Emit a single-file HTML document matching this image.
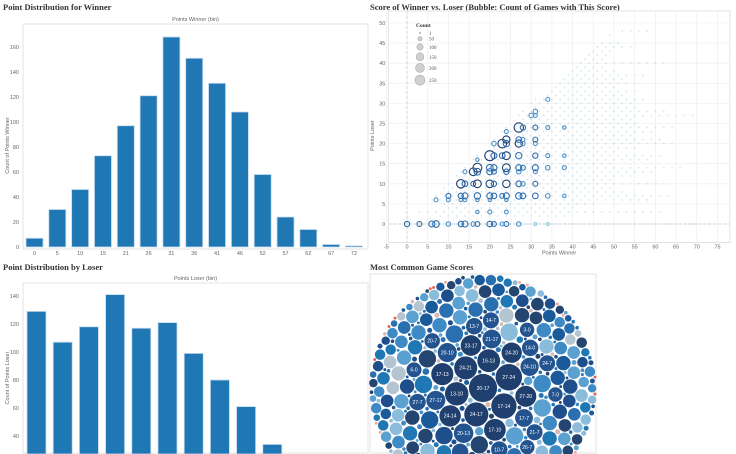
<!DOCTYPE html>
<html><head><meta charset="utf-8"><style>
html,body{margin:0;padding:0;background:#fff;width:736px;height:454px;overflow:hidden;}
svg{display:block;font-family:"Liberation Sans",sans-serif;overflow:hidden;}
.t{font-family:"Liberation Serif",serif;font-weight:bold;font-size:8.5px;fill:#333;}
.tk{font-size:5.5px;fill:#666;}
</style></head><body>
<svg id="s" width="736" height="454" viewBox="0 0 736 454" xmlns="http://www.w3.org/2000/svg">
<defs><clipPath id="cp"><rect x="0" y="0" width="736" height="454"/></clipPath></defs>
<g clip-path="url(#cp)">
<text class="t" x="3" y="10">Point Distribution for Winner</text>
<text class="t" x="370" y="10">Score of Winner vs. Loser (Bubble: Count of Games with This Score)</text>
<text class="t" x="3" y="270">Point Distribution by Loser</text>
<text class="t" x="370" y="270">Most Common Game Scores</text>
<g id="g1"></g>
<g id="g2"></g>
<g id="g3"></g>
<g id="g4"></g>
</g>
</svg>
<script>
const winBins=["0","5","10","15","21","26","31","36","41","46","52","57","62","67","72"];
const winCounts=[7,30,46,73,97,121,168,151,131,108,58,24,14,2,1];
const winTicks=[0,20,40,60,80,100,120,140,160];
const loseBins=["0","3","7","10","14","17","21","24","28","31","35","38"];
const loseCounts=[129,107,118,141,117,121,99,80,61,34,14,5];
const loseTicks=[40,60,80,100,120,140];
const scatterXTicks=[-5,0,5,10,15,20,25,30,35,40,45,50,55,60,65,70,75];
const scatterYTicks=[0,5,10,15,20,25,30,35,40,45,50];
// faint rows: [loser, min winner, max winner]
const faintRows=[[0,0,73],[2,8,38],[3,3,62],[4,10,40],[5,8,45],[6,6,58],[7,7,63],[8,9,52],[9,9,50],[10,10,62],[11,12,50],[12,12,55],[13,13,60],[14,14,66],[15,16,50],[16,16,58],[17,17,61],[18,19,50],[19,20,55],[20,20,65],[21,21,62],[22,23,55],[23,23,60],[24,24,65],[25,26,55],[26,27,55],[27,27,70],[28,28,62],[29,30,55],[30,30,55],[31,31,57],[32,33,52],[33,34,56],[34,35,50],[35,36,56],[36,37,52],[37,38,58],[38,39,50],[39,41,48],[40,42,63],[41,42,48],[42,44,48],[43,44,50],[44,45,54],[45,46,52],[47,48,50],[48,51,58],[49,52,52]];
// prominent bubbles: [winner, loser, count]
const bigBubbles=[[0,0,70],[3,0,60],[6,0,90],[7,0,110],[10,0,50],[13,0,70],[14,0,90],[16,0,50],[17,0,60],[20,0,80],[21,0,60],[23,0,40],[24,0,60],[27,0,50],[31,0,25],[34,0,25],
[17,3,30],[20,3,40],[24,3,35],[7,6,40],[10,6,40],[13,6,30],[14,6,35],[17,6,30],[20,6,30],[24,6,30],
[10,7,60],[13,7,70],[14,7,90],[17,7,100],[20,7,90],[21,7,80],[23,7,60],[24,7,90],[27,7,100],[28,7,80],[31,7,80],[34,7,50],[38,7,30],
[13,10,180],[14,10,80],[16,10,60],[17,10,150],[20,10,140],[21,10,70],[24,10,140],[27,10,80],[28,10,50],[31,10,60],
[14,13,40],[16,13,150],[17,13,110],[20,13,90],[21,13,60],[24,13,70],[27,13,50],[31,13,40],
[17,14,200],[20,14,110],[21,14,90],[24,14,150],[27,14,90],[28,14,60],[31,14,90],[34,14,50],[38,14,40],
[17,16,30],[20,17,250],[21,17,90],[23,17,80],[24,17,150],[27,17,100],[31,17,70],[34,17,40],[38,17,30],
[21,20,50],[23,20,190],[24,20,100],[27,20,130],[28,20,50],[31,20,40],[24,21,130],[27,21,80],[28,21,40],[31,21,60],[24,23,40],
[27,24,220],[28,24,70],[31,24,60],[34,24,40],[38,24,30],[30,27,50],[31,27,40],[31,28,50],[34,31,40]];
const legendCounts=[1,50,100,150,200,250];
// packed bubbles labeled scores: [label, count]
const scoreLabels=[["20-17",250],["27-24",220],["17-14",200],["24-17",180],["13-10",170],["24-21",165],["16-13",160],["17-13",150],["17-10",145],["24-14",140],["27-20",135],["23-17",130],["24-20",125],["20-13",115],["27-17",110],["20-10",110],["21-17",105],["24-10",100],["17-7",95],["13-7",80],["14-0",80],["10-7",80],["27-7",80],["31-7",80],["14-7",75],["21-7",75],["24-7",75],["20-7",70],["0-0",70],["6-0",65],["3-0",60],["7-0",60],["26-7",60]];
// filler buckets: [count, howMany]
const fillerBuckets=[[90,10],[60,30],[45,45],[30,70],[18,90],[10,110],[5,130],[2,160],[1,200]];

const NS="http://www.w3.org/2000/svg";
function mk(p,tag,at,txt){const e=document.createElementNS(NS,tag);for(const k in at)e.setAttribute(k,at[k]);if(txt!==undefined)e.textContent=txt;p.appendChild(e);return e;}

function hist(g,L,T,R,B,bins,counts,ticks,yZero,ppu,step,bw,first,xTitle,yTitle,nameP){
  const fr=mk(g,'rect',{x:L,y:T,width:R-L,height:B-T,fill:'none',stroke:'#e3e3e3','stroke-width':1});
  
  const y=v=>yZero-v*ppu;
  const tt=mk(g,'text',{x:(L+R)/2,y:T-3,'text-anchor':'middle',class:'tk'},xTitle);
  
  const yt=mk(g,'text',{x:0,y:0,'text-anchor':'middle',class:'tk',transform:`translate(9,${(T+Math.min(B,yZero))/2+10}) rotate(-90)`},yTitle);
  
  ticks.forEach(v=>{const e=mk(g,'text',{x:L-4,y:y(v)+2,'text-anchor':'end',class:'tk'},String(v));
    });
  counts.forEach((c,i)=>{const cx=first+i*step;
    const bottom=Math.min(yZero,454);
    const h=Math.max(0,bottom-y(c));
    const r=mk(g,'rect',{x:cx-bw/2,y:Math.min(y(c),bottom),width:bw,height:h,fill:'#1f77b4',stroke:'#c6dbef','stroke-width':0.8});
    
    if(B>=yZero){const lb=mk(g,'text',{x:cx,y:B+6,'text-anchor':'middle',class:'tk'},bins[i]);
      }
  });
}
hist(document.getElementById('g1'),23,24,368,249,winBins,winCounts,winTicks,247,1.25,22.82,17,34.5,"Points Winner (bin)","Count of Points Winner","winner");
hist(document.getElementById('g3'),23,283,368,453,loseBins,loseCounts,loseTicks,492,1.4,26.2,19,36.5,"Points Loser (bin)","Count of Points Loser","loser");

(function(){
  const g=document.getElementById('g2');
  const xs=w=>407+w*4.14, ys=l=>224-l*4.02;
  const L=xs(-4.5),R=xs(78),T=ys(53),B=ys(-4.6);
  const fr=mk(g,'rect',{x:L,y:T,width:R-L,height:B-T,fill:'none',stroke:'#e3e3e3'});
  
  scatterXTicks.forEach(v=>{const l=mk(g,'line',{x1:xs(v),x2:xs(v),y1:T,y2:B,stroke:'#f0f0f0','stroke-width':0.8});
    
    const e=mk(g,'text',{x:xs(v),y:B+6,'text-anchor':'middle',class:'tk'},String(v));
    });
  scatterYTicks.forEach(v=>{const l=mk(g,'line',{x1:L,x2:R,y1:ys(v),y2:ys(v),stroke:'#f0f0f0','stroke-width':0.8});
    
    const e=mk(g,'text',{x:L-3,y:ys(v)+2,'text-anchor':'end',class:'tk'},String(v));
    });
  const z1=mk(g,'line',{x1:xs(0),x2:xs(0),y1:T,y2:B,stroke:'#ccc','stroke-dasharray':'3,2','stroke-width':0.8});
  
  const z2=mk(g,'line',{x1:L,x2:R,y1:ys(0),y2:ys(0),stroke:'#ccc','stroke-dasharray':'3,2','stroke-width':0.8});
  
  const xt=mk(g,'text',{x:(L+R)/2,y:B+12,'text-anchor':'middle',class:'tk'},"Points Winner");
  
  const yt=mk(g,'text',{x:0,y:0,'text-anchor':'middle',class:'tk',transform:`translate(374,${ys(22)}) rotate(-90)`},"Points Loser");
  
  const rad=c=>Math.max(0.7,Math.sqrt(c/250)*5);
  const col=c=>c>=130?'#213f73':c>=60?'#2e6db0':c>=30?'#4a8fc8':'#9fcde0';
  faintRows.forEach(([l,a,b])=>{for(let w=a;w<=b;w++){
    if((w+l)%2 && l>0) continue;
    const d=mk(g,'circle',{cx:xs(w),cy:ys(l),r:0.6,fill:'none',stroke:'#b6dbe8','stroke-width':0.5});
    }});
  bigBubbles.forEach(([w,l,c])=>{
    const d=mk(g,'circle',{cx:xs(w),cy:ys(l),r:rad(c),fill:'none',stroke:col(c),'stroke-width':1.1});
    });
  const lt=mk(g,'text',{x:416,y:27,'font-family':'Liberation Serif,serif','font-weight':'bold','font-size':'5.5px',fill:'#333'},"Count");
  
  let yy=33;
  legendCounts.forEach((c,i)=>{const r=rad(c);yy+=i?r+1.8:0;
    const d=mk(g,'circle',{cx:420,cy:yy,r:r,fill:'#d0d0d0',stroke:'#aaa','stroke-width':0.6});
    
    const e=mk(g,'text',{x:429,y:yy+2,'font-family':'Liberation Serif,serif','font-size':'5px',fill:'#555'},String(c));
    
    yy+=r+1;});
})();

(function(){
  const g=document.getElementById('g4');
  const fr=mk(g,'rect',{x:370,y:274,width:226,height:179,fill:'none',stroke:'#e3e3e3'});
  
  const CX=483,CY=388,RR=114;
  const items=[];
  scoreLabels.forEach(([lab,c])=>items.push({lab,c}));
  fillerBuckets.forEach(([c,n])=>{for(let i=0;i<n;i++)items.push({lab:null,c});});
  const rOf=c=>Math.sqrt(c/250)*13.5+0.6;
  items.forEach(it=>it.r=rOf(it.c));
  items.sort((a,b)=>b.r-a.r);
  const cell=30,grid=new Map(),key=(i,j)=>i+','+j;
  function ok(x,y,r){const gi=Math.floor(x/cell),gj=Math.floor(y/cell);
    for(let i=gi-1;i<=gi+1;i++)for(let j=gj-1;j<=gj+1;j++){const a=grid.get(key(i,j));if(!a)continue;
      for(const p of a){const dx=p.x-x,dy=p.y-y,m=p.r+r+0.6;if(dx*dx+dy*dy<m*m)return false;}}
    return true;}
  const placed=[];
  items.forEach((it,idx)=>{
    const a0=idx*2.399;let a=a0,found=false;
    for(let rr=0;rr<RR-it.r+0.01;){
      const x=CX+rr*Math.cos(a),y=CY+rr*Math.sin(a);
      if(ok(x,y,it.r)){it.x=x;it.y=y;found=true;break;}
      const ds=Math.max(1,it.r*0.5);
      a+=ds/Math.max(rr,2);rr=Math.max(0,(a-a0)*1.8/(2*Math.PI));
    }
    if(!found)return;
    const k=key(Math.floor(it.x/cell),Math.floor(it.y/cell));
    if(!grid.has(k))grid.set(k,[]);grid.get(k).push(it);placed.push(it);
  });
  const pal=['#1f4e8c','#2a6fb0','#1f77b4','#3d8ac4','#23456f','#5aa0d0','#1b5a9a','#8bbcdc'];
  placed.forEach((it,i)=>{
    if(it.y-it.r>454) return;
    let f;
    if(it.lab)f=it.c>=120?'#1f3f6e':'#245490';
    else if(it.r<1.6){const dist=Math.hypot(it.x-CX,it.y-CY);f=dist>RR-8?(i%3?'#e8604c':'#f2a89a'):pal[i%pal.length];}
    else if(it.r<3&&i%11===0)f='#d9b8b3';
    else if(i%17===0)f='#b4c4d0';
    else f=pal[(i*7)%pal.length];
    const c=mk(g,'circle',{cx:it.x.toFixed(1),cy:it.y.toFixed(1),r:it.r.toFixed(2),fill:f});
    
    
    if(it.lab&&it.y<450){const t=mk(g,'text',{x:it.x.toFixed(1),y:(it.y+1.8).toFixed(1),'text-anchor':'middle','font-size':'5px',fill:'#fff'},it.lab);
      }
  });
})();
</script>
</body></html>
